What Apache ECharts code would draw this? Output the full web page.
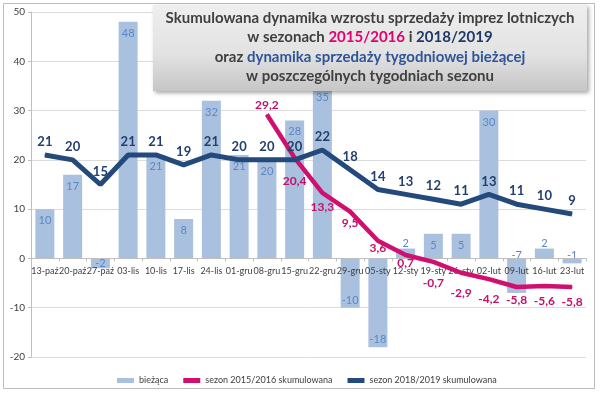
<!DOCTYPE html>
<html>
<head>
<meta charset="utf-8">
<script src="https://cdn.jsdelivr.net/npm/echarts@6/dist/echarts.min.js"></script>
<style>
html,body{margin:0;padding:0;background:#fff;}
#c{width:600px;height:393px;}
</style>
</head>
<body>
<div id="c"></div>
<script>
const categories = ['13-paź','20-paź','27-paź','03-lis','10-lis','17-lis','24-lis','01-gru','08-gru','15-gru','22-gru','29-gru','05-sty','12-sty','19-sty','26-sty','02-lut','09-lut','16-lut','23-lut'];
const currentWeek = [10,17,-2,48,21,8,32,21,20,28,35,-10,-18,2,5,5,30,-7,2,-1];
const season1516 = [null,null,null,null,null,null,null,null,29.2,20.4,13.3,9.5,3.6,0.7,-0.7,-2.9,-4.2,-5.8,-5.6,-5.8];
const season1819 = [21,20,15,21,21,19,21,20,20,20,22,18,14,13,12,11,13,11,10,9];
const yMin = -20, yMax = 50, yStep = 10;
const seriesNames = ['bieżąca','sezon 2015/2016 skumulowana','sezon 2018/2019 skumulowana'];

// label placement for the 2015/2016 line (style only)
const pinkLabelLayout = [
  {pos:'top',dist:3,dx:-1},{pos:'bottom',dist:17,dx:1},{pos:'bottom',dist:8,dx:-11},{pos:'bottom',dist:5,dx:-2},
  {pos:'bottom',dist:1,dx:-4},{pos:'bottom',dist:2,dx:1},{pos:'bottom',dist:15,dx:-1},{pos:'bottom',dist:14,dx:0},
  {pos:'bottom',dist:13,dx:-1},{pos:'bottom',dist:7,dx:2},{pos:'bottom',dist:9,dx:3},{pos:'bottom',dist:9,dx:4}
];

const FONT = 'Lato, "Open Sans", sans-serif';
const fmt = v => String(v).replace('.', ',');

const GRID = {left: 31, right: 14, top: 12, bottom: 36};
const gridH = 393 - GRID.top - GRID.bottom;
const zeroOffset = -(0 - yMin) / (yMax - yMin) * gridH;

let k = 0;
const pinkData = season1516.map(v => {
  if (v === null) return null;
  const L = pinkLabelLayout[k++];
  return {value: v, label: {show: true, position: L.pos, distance: L.dist, offset: [L.dx, 0]}};
});

const barData = currentWeek.map(v => {
  let label;
  if (v >= 4) label = {position: 'insideTop', distance: 6};
  else if (v >= 0) label = {position: 'top', distance: 0};
  else if (v <= -10) label = {position: 'insideBottom', distance: 2};
  else if (v === -2) label = {position: 'inside'};
  else label = {position: 'top', distance: -3};
  return {value: v, label};
});

const chart = echarts.init(document.getElementById('c'), null, {renderer: 'canvas'});
chart.setOption({
  animation: false,
  textStyle: {fontFamily: FONT},
  graphic: [
    {type: 'rect', z: 1, shape: {x: 3.5, y: 3.5, width: 591, height: 385}, style: {fill: 'none', stroke: '#bcbcbc', lineWidth: 1}},
    {type: 'rect', z: 100, shape: {x: 153, y: 5, width: 434, height: 86},
      style: {
        fill: new echarts.graphic.LinearGradient(0, 0, 0, 1, [
          {offset: 0, color: '#eeeeee'}, {offset: 0.55, color: '#e3e3e3'}, {offset: 1, color: '#c6c6c6'}
        ]),
        shadowBlur: 4, shadowOffsetX: 2, shadowOffsetY: 2, shadowColor: 'rgba(0,0,0,0.35)'
      }}
  ],
  title: {
    z: 120,
    left: 370, top: 8, textAlign: 'center', padding: 0,
    text: '{a|Skumulowana dynamika wzrostu sprzedaży imprez lotniczych}\n{a|w sezonach }{p|2015/2016}{a| i }{n|2018/2019}\n{a|oraz }{b|dynamika sprzedaży tygodniowej bieżącej}\n{a|w poszczególnych tygodniach sezonu}',
    textStyle: {
      fontFamily: FONT, fontSize: 15, fontWeight: 'bold', color: '#404040', lineHeight: 19.5,
      rich: {
        a: {fontFamily: FONT, fontSize: 15, fontWeight: 'bold', color: '#404040', lineHeight: 19.5, align: 'center'},
        p: {fontFamily: FONT, fontSize: 15, fontWeight: 'bold', color: '#e0006f', lineHeight: 19.5, align: 'center'},
        n: {fontFamily: FONT, fontSize: 15, fontWeight: 'bold', color: '#1f3864', lineHeight: 19.5, align: 'center'},
        b: {fontFamily: FONT, fontSize: 15, fontWeight: 'bold', color: '#2f5597', lineHeight: 19.5, align: 'center'}
      }
    }
  },
  legend: {
    left: 112, top: 371, itemGap: 15, itemWidth: 17, itemHeight: 5,
    textStyle: {fontFamily: FONT, fontSize: 9, color: '#404040'},
    data: [
      {name: seriesNames[0], icon: 'rect'},
      {name: seriesNames[1], icon: 'rect'},
      {name: seriesNames[2], icon: 'rect'}
    ]
  },
  grid: {left: GRID.left, right: GRID.right, top: GRID.top, bottom: GRID.bottom, containLabel: false},
  xAxis: {
    type: 'category', data: categories, position: 'bottom', offset: zeroOffset, z: 3,
    axisLine: {onZero: false, lineStyle: {color: '#bfbfbf'}},
    axisTick: {show: true, length: 3, lineStyle: {color: '#bfbfbf'}},
    axisLabel: {interval: 0, fontSize: 9, color: '#404040', margin: 8, fontFamily: FONT, hideOverlap: false}
  },
  yAxis: {
    type: 'value', min: yMin, max: yMax, interval: yStep,
    axisLine: {show: true, lineStyle: {color: '#bfbfbf'}},
    axisTick: {show: true, length: 3, lineStyle: {color: '#bfbfbf'}},
    axisLabel: {fontSize: 10, color: '#404040', margin: 6, fontFamily: FONT},
    splitLine: {lineStyle: {color: '#dcdcdc'}}
  },
  series: [
    {
      name: seriesNames[0], type: 'bar', data: barData, barWidth: 19, z: 1,
      itemStyle: {color: '#a9c0de'},
      label: {show: true, fontSize: 11, color: '#5b87c5', fontFamily: FONT}
    },
    {
      name: seriesNames[1], type: 'line', data: pinkData, connectNulls: false, z: 4,
      symbol: 'circle', symbolSize: 1, showSymbol: true,
      lineStyle: {width: 4.5, color: '#d0106e'}, itemStyle: {color: '#d0106e'},
      label: {show: true, fontSize: 12, fontWeight: 'bold', color: '#c4106a', fontFamily: FONT,
        formatter: p => fmt(p.value)},
      labelLayout: {hideOverlap: false}
    },
    {
      name: seriesNames[2], type: 'line', data: season1819, z: 5,
      symbol: 'circle', symbolSize: 1, showSymbol: true,
      lineStyle: {width: 5, color: '#244a7c'}, itemStyle: {color: '#244a7c'},
      label: {show: true, position: 'top', distance: 6, fontSize: 13, fontWeight: 'bold', color: '#223f6e', fontFamily: FONT},
      labelLayout: {hideOverlap: false}
    }
  ]
});
</script>
</body>
</html>
